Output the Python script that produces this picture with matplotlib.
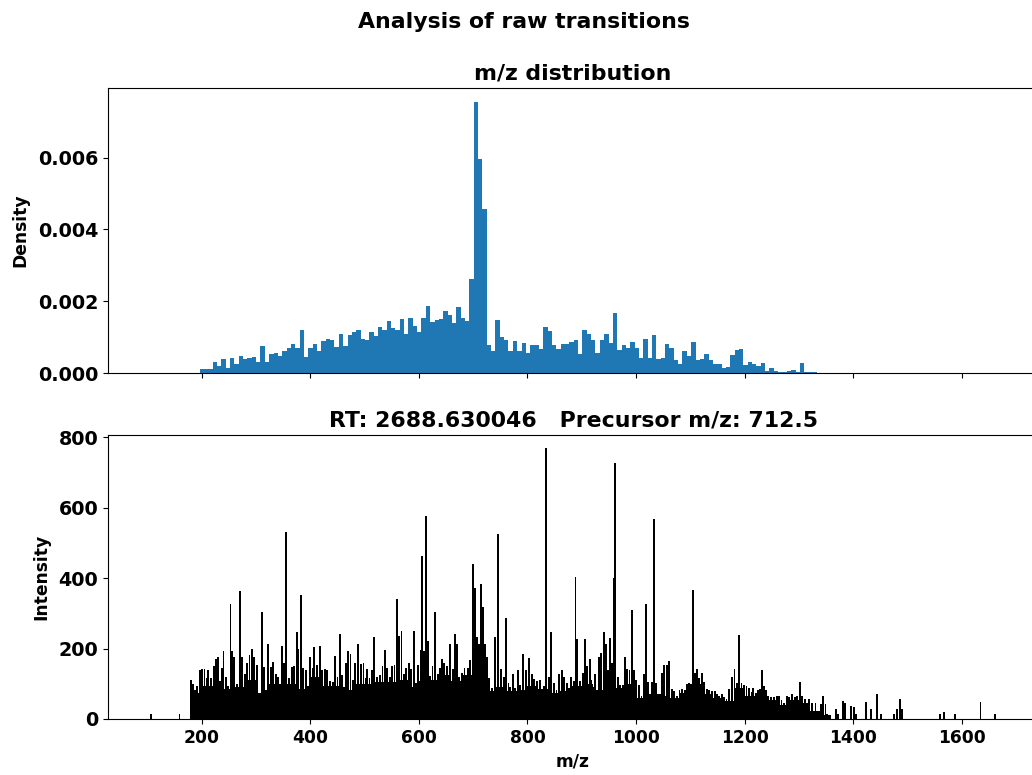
import matplotlib
matplotlib.use('Agg')
import matplotlib.pyplot as plt
from matplotlib.ticker import MultipleLocator

# --- histogram of m/z (density per bin), 142 bins between 196 and 1334 ---
hist_range = (196, 1334)
density = [
    0.00012, 0.00012, 0.00012, 0.00031, 0.00020, 0.00039, 0.00014, 0.00043, 0.00025, 0.00046,
    0.00038, 0.00041, 0.00045, 0.00032, 0.00076, 0.00032, 0.00054, 0.00057, 0.00047, 0.00061,
    0.00069, 0.00080, 0.00069, 0.00120, 0.00044, 0.00069, 0.00080, 0.00061, 0.00088, 0.00094,
    0.00091, 0.00073, 0.00109, 0.00076, 0.00106, 0.00113, 0.00119, 0.00094, 0.00091, 0.00113,
    0.00102, 0.00128, 0.00120, 0.00146, 0.00124, 0.00120, 0.00150, 0.00109, 0.00154, 0.00130,
    0.00113, 0.00154, 0.00188, 0.00143, 0.00148, 0.00150, 0.00173, 0.00161, 0.00139, 0.00183,
    0.00154, 0.00146, 0.00262, 0.00756, 0.00595, 0.00458, 0.00077, 0.00060, 0.00148, 0.00100,
    0.00093, 0.00060, 0.00088, 0.00061, 0.00083, 0.00056, 0.00077, 0.00077, 0.00066, 0.00129,
    0.00117, 0.00077, 0.00066, 0.00080, 0.00080, 0.00087, 0.00091, 0.00054, 0.00120, 0.00110,
    0.00091, 0.00056, 0.00091, 0.00110, 0.00083, 0.00166, 0.00065, 0.00077, 0.00070, 0.00087,
    0.00069, 0.00043, 0.00095, 0.00043, 0.00106, 0.00039, 0.00043, 0.00080, 0.00069, 0.00035,
    0.00024, 0.00061, 0.00047, 0.00087, 0.00035, 0.00040, 0.00054, 0.00035, 0.00024, 0.00026,
    0.00015, 0.00018, 0.00050, 0.00065, 0.00068, 0.00021, 0.00031, 0.00024, 0.00020, 0.00028,
    0.00006, 0.00013, 0.00006, 0.00003, 0.00003, 0.00006, 0.00008, 0.00003, 0.00028, 0.00003,
    0.00002, 0.00002,
]

# --- spectrum: background level per 20 m/z window (start of window) ---
floor_start = list(range(180, 1360, 20))
floor_level = [
    75, 95, 95, 85, 90, 110, 75, 100, 100, 100,
    85, 120, 95, 95, 82, 100, 100, 105, 105, 110,
    90, 108, 110, 125, 108, 125, 145, 80, 90, 80,
    82, 95, 85, 75, 80, 95, 100, 82, 120, 88,
    100, 60, 65, 65, 60, 75, 100, 70, 60, 52,
    88, 66, 66, 55, 40, 55, 45, 22, 12,
]

# --- spectrum: individual peaks ---
peak_mz = [
    107, 159,
    179.5, 184, 188, 192, 196, 200, 205, 209, 212, 217, 222, 226, 230, 234, 237, 240, 244, 248,
    253, 256, 260, 265, 270, 274, 279, 283, 288, 292, 297, 302, 311, 315, 318, 322, 327, 332, 337, 341,
    347, 352, 356, 361, 366, 370, 375, 378, 382, 387, 392, 396, 400, 404, 407, 412, 417, 422, 427, 431,
    436, 441, 445, 450, 454, 458, 462, 466, 470, 474, 479, 483, 488, 493, 498, 502, 505, 509, 513, 517,
    523, 529, 533, 537, 541.5, 546, 551, 555, 560, 563, 568, 572, 576, 581, 586, 591, 595, 598, 603, 606,
    609.5, 613, 617, 621, 625, 630, 634.5, 639, 642.5, 647, 652, 657, 662, 667, 671, 674, 679, 684, 690, 694,
    699, 704, 707, 710, 715, 718, 722, 726, 729, 734, 740, 746, 751, 756, 760.5, 765, 768.5, 773, 777, 782,
    786, 792, 797, 803, 808, 812.5, 817, 823, 830, 834.5, 839, 844, 849, 853.5, 858, 863, 867.5, 872, 876, 881,
    885, 888.5, 892, 897, 902, 905.5, 910, 915, 918, 921, 925, 931, 936, 941, 944, 948, 952.6, 955.7, 958.7, 961.8,
    966, 971, 976, 979.5, 984, 988, 991.8, 996, 1000, 1005, 1010, 1014, 1018.7, 1022, 1026, 1030, 1033.4, 1037, 1041, 1044.4,
    1048, 1052.3, 1056.6, 1061.5, 1066, 1070, 1075, 1080, 1085, 1090, 1094, 1098, 1104.3, 1108, 1112, 1116.5, 1121, 1125.7, 1130, 1135,
    1140, 1144.7, 1149, 1153, 1158, 1162.4, 1166.7, 1171.6, 1176.5, 1181.4, 1185.6, 1190, 1194.2, 1198.5, 1203.4, 1208.3, 1212.6, 1215.6, 1220.5, 1224,
    1228, 1231.5, 1235, 1239, 1243.8, 1248.6, 1254, 1259, 1263.3, 1268, 1273, 1277.4, 1281.7, 1286.6, 1292.6, 1297, 1302, 1306, 1312, 1318,
    1324, 1330.5, 1335, 1340, 1345, 1349, 1352, 1368.5, 1372, 1381, 1384.4, 1395.4, 1401, 1405, 1424, 1433, 1444.3, 1452, 1476, 1480.4,
    1486.5, 1490, 1560, 1568, 1588, 1634.5, 1661,
]
peak_int = [
    14, 14,
    112, 100, 82, 93, 140, 142, 142, 115, 139, 115, 150, 169, 176, 108, 146, 192, 120, 95,
    325, 192, 176, 100, 363, 176, 129, 158, 183, 199, 176, 152, 303, 148, 82, 212, 148, 161, 129, 118,
    207, 158, 531, 115, 148, 150, 246, 200, 353, 146, 139, 95, 176, 146, 203, 153, 207, 139, 142, 139,
    108, 105, 180, 120, 242, 124, 91, 158, 192, 184, 110, 158, 214, 155, 158, 115, 143, 115, 139, 233,
    120, 124, 150, 195, 146, 118, 150, 152, 340, 235, 249, 127, 146, 158, 142, 250, 101, 152, 195, 463,
    192, 577, 222, 123, 150, 303, 127, 146, 169, 158, 150, 214, 142, 242, 214, 120, 131, 146, 146, 167,
    439, 371, 233, 214, 382, 318, 214, 176, 116, 89, 233, 524, 142, 120, 288, 102, 91, 127, 89, 139,
    96, 184, 139, 173, 129, 114, 108, 110, 95, 768, 120, 246, 101, 82, 129, 139, 120, 101, 89, 120,
    108, 402, 226, 108, 131, 227, 150, 169, 112, 91, 127, 176, 186, 246, 214, 139, 231, 158, 401, 728,
    120, 97, 97, 176, 142, 139, 309, 139, 112, 97, 66, 129, 326, 104, 72, 104, 569, 101, 72, 72,
    131, 154, 152, 165, 85, 78, 66, 82, 85, 82, 99, 101, 366, 131, 142, 116, 131, 104, 85, 82,
    78, 78, 72, 66, 70, 63, 57, 85, 120, 142, 101, 238, 101, 97, 93, 89, 76, 89, 74, 82,
    85, 140, 93, 82, 66, 63, 61, 65, 66, 53, 44, 66, 63, 72, 63, 64, 105, 65, 56, 56,
    45, 45, 14, 43, 64, 43, 14, 29, 14, 52, 45, 37, 33, 14, 48, 29, 71, 14, 14, 29,
    56, 29, 14, 21, 14, 48, 14,
]

rt = 2688.630046
precursor_mz = 712.5

plt.rcParams['font.weight'] = 'bold'
plt.rcParams['axes.labelweight'] = 'bold'
plt.rcParams['axes.titleweight'] = 'bold'
plt.rcParams['font.size'] = 12.3
plt.rcParams['ytick.labelsize'] = 13.8
plt.rcParams['axes.titlesize'] = 15.8

fig = plt.figure(figsize=(10.32, 7.75), dpi=100)
ax1 = fig.add_axes([0.1047, 0.5187, 0.9012, 0.3677])
ax2 = fig.add_axes([0.1047, 0.0723, 0.9012, 0.3665], sharex=ax1)

# top: m/z distribution
bin_w = (hist_range[1] - hist_range[0]) / len(density)
centers = [hist_range[0] + (i + 0.5) * bin_w for i in range(len(density))]
ax1.hist(centers, bins=len(density), range=hist_range, weights=density, color='C0')
ax1.set_title('m/z distribution')
ax1.set_ylabel('Density', labelpad=6)
ax1.yaxis.set_major_locator(MultipleLocator(0.002))
ax1.tick_params(labelbottom=False)

# bottom: spectrum
ax2.bar(floor_start, floor_level, width=20, align='edge', color='black')
ax2.bar(peak_mz, peak_int, width=3.5, color='black')
ax2.set_title(f'RT: {rt}   Precursor m/z: {precursor_mz}')
ax2.set_xlabel('m/z')
ax2.set_ylabel('Intensity', labelpad=6)

fig.suptitle('Analysis of raw transitions', x=0.508, y=0.985, fontsize=15.8, fontweight='bold')

fig.savefig('out.png', dpi=100)
